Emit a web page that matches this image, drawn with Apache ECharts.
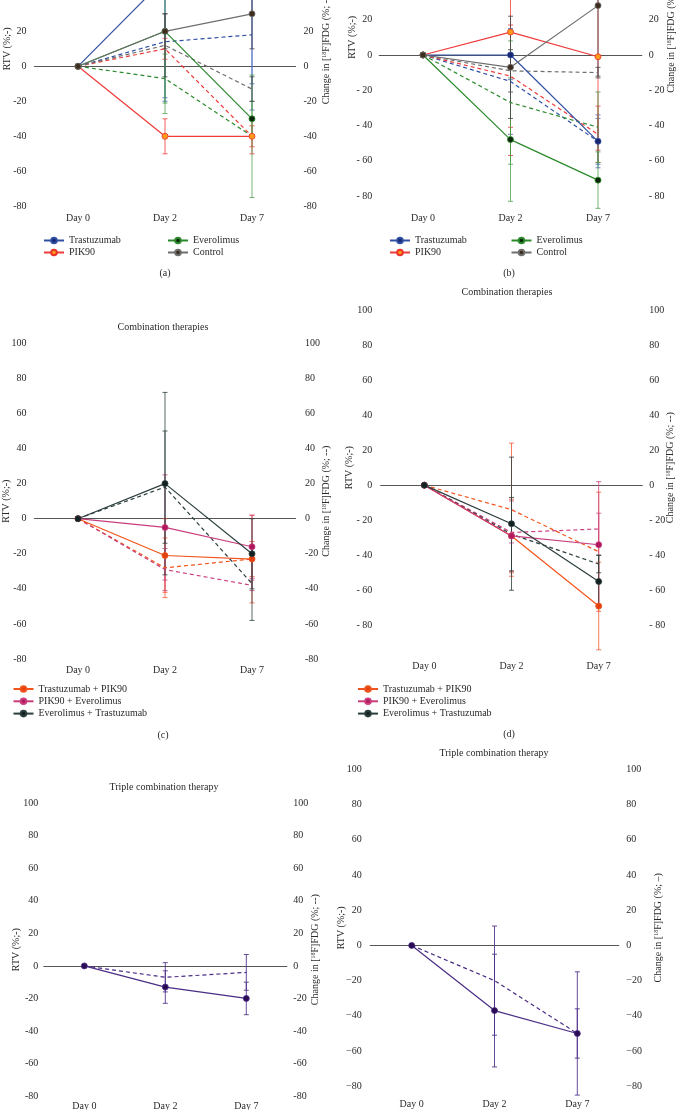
<!DOCTYPE html>
<html><head><meta charset="utf-8">
<script src="https://cdn.jsdelivr.net/npm/echarts@6/dist/echarts.min.js"></script>
<style>html,body{margin:0;padding:0;background:#fff}#c{width:678px;height:1110px}</style>
</head><body><div id="c"></div>
<script>
const days = ['Day 0', 'Day 2', 'Day 7'];

// Panel (a) — single therapies, RTV (solid) and FDG change (dashed)
const aTrasRTV = [0, 50, 55],   aTrasRTVErr = [0, 70, 80];
const aPikRTV  = [0, -40, -40], aPikRTVErr  = [0, 10, 10];
const aEveRTV  = [0, 20, -30],  aEveRTVErr  = [0, 47, 10];
const aCtlRTV  = [0, 20, 30],   aCtlRTVErr  = [0, 10, 20];
const aTrasFDG = [0, 14, 18],   aTrasFDGErr = [0, 32, 28];
const aPikFDG  = [0, 10, -40],  aPikFDGErr  = [0, 6, 6];
const aEveFDG  = [0, -7, -40],  aEveFDGErr  = [0, 14, 35];
const aCtlFDG  = [0, 12, -13],  aCtlFDGErr  = [0, 18, 7];

// Panel (b)
const bTrasRTV = [0, 0, -49],   bTrasRTVErr = [0, 14, 15];
const bPikRTV  = [0, 13, -1],   bPikRTVErr  = [0, 70, 53];
const bEveRTV  = [0, -48, -71], bEveRTVErr  = [0, 35, 16];
const bCtlRTV  = [0, -7, 28],   bCtlRTVErr  = [0, 29, 40];
const bTrasFDG = [0, -15, -49], bTrasFDGErr = [0, 30, 13];
const bPikFDG  = [0, -12, -45], bPikFDGErr  = [0, 29, 16];
const bEveFDG  = [0, -27, -41], bEveFDGErr  = [0, 35, 20];
const bCtlFDG  = [0, -9, -10],  bCtlFDGErr  = [0, 12, 3];

// Panel (c) — combination therapies
const cTPRTV = [0, -21, -23], cTPRTVErr = [0, 21, 25];
const cPERTV = [0, -5, -16],  cPERTVErr = [0, 30, 18];
const cETRTV = [0, 20, -20],  cETRTVErr = [0, 52, 20];
const cTPFDG = [0, -28, -23], cTPFDGErr = [0, 17, 10];
const cPEFDG = [0, -29, -38], cPEFDGErr = [0, 12, 3];
const cETFDG = [0, 18, -37],  cETFDGErr = [0, 32, 21];

// Panel (d)
const dTPRTV = [0, -29, -69], dTPRTVErr = [0, 21, 25];
const dPERTV = [0, -29, -34], dPERTVErr = [0, 20, 36];
const dETRTV = [0, -22, -55], dETRTVErr = [0, 38, 15];
const dTPFDG = [0, -14, -38], dTPFDGErr = [0, 38, 34];
const dPEFDG = [0, -27, -25], dPEFDGErr = [0, 6, 9];
const dETFDG = [0, -28, -45], dETFDGErr = [0, 21, 5];

// Panel (e) & (f) — triple combination therapy
const eRTV = [0, -13, -20], eRTVErr = [0, 10, 10];
const eFDG = [0, -7, -4],   eFDGErr = [0, 9, 11];
const fRTV = [0, -37, -50], fRTVErr = [0, 32, 35];
const fFDG = [0, -20, -50], fFDGErr = [0, 31, 14];

const singleNames = ['Trastuzumab', 'PIK90', 'Everolimus', 'Control'];
const comboNames = ['Trastuzumab + PIK90', 'PIK90 + Everolimus', 'Everolimus + Trastuzumab'];
const tripleName = 'Triple';

// ---------- styles ----------
const FONT = 'Liberation Serif';
const STY = {
  tras: {line: '#2f4fa3', mark: '#1a2670', border: '#2f4fa3', err: 'rgba(80,110,195,0.85)'},
  pik:  {line: '#ee3a3a', mark: '#ff9a1a', border: '#e8322a', err: 'rgba(238,70,70,0.85)'},
  eve:  {line: '#2b8a2b', mark: '#0b260b', border: '#2b8a2b', err: 'rgba(70,155,70,0.75)'},
  ctl:  {line: '#6e6e6e', mark: '#3e2c1c', border: '#6e6e6e', err: 'rgba(70,70,70,0.8)'},
  tp:   {line: '#f2541b', mark: '#e2400e', border: '#f2541b', err: 'rgba(242,90,50,0.8)'},
  pe:   {line: '#c93d7e', mark: '#b0185c', border: '#c93d7e', err: 'rgba(205,70,130,0.8)'},
  et:   {line: '#2d3e3e', mark: '#122222', border: '#2d3e3e', err: 'rgba(45,62,62,0.8)'},
  tri:  {line: '#4b2d86', mark: '#2a0c55', border: '#4b2d86', err: 'rgba(75,45,134,0.85)'}
};

const panels = [
  {grid: {left: 34.5, top: -108.7, width: 261, height: 315}, fmt: '-', xMargin: 7, lm: 8, rm: 8, lGap: 22.5, rGap: 25.5, rName: '(%; --)',
   series: [
     [singleNames[0], aTrasRTV, aTrasRTVErr, aTrasFDG, aTrasFDGErr, 'tras'],
     [singleNames[1], aPikRTV, aPikRTVErr, aPikFDG, aPikFDGErr, 'pik'],
     [singleNames[2], aEveRTV, aEveRTVErr, aEveFDG, aEveFDGErr, 'eve'],
     [singleNames[3], aCtlRTV, aCtlRTVErr, aCtlFDG, aCtlFDGErr, 'ctl']]},
  {grid: {left: 379.25, top: -121.3, width: 262.5, height: 317.3}, fmt: '- ', xMargin: 17, lm: 7, rm: 7, lGap: 22, rGap: 25, rName: '(%; --)',
   series: [
     [singleNames[0], bTrasRTV, bTrasRTVErr, bTrasFDG, bTrasFDGErr, 'tras'],
     [singleNames[1], bPikRTV, bPikRTVErr, bPikFDG, bPikFDGErr, 'pik'],
     [singleNames[2], bEveRTV, bEveRTVErr, bEveFDG, bEveFDGErr, 'eve'],
     [singleNames[3], bCtlRTV, bCtlRTVErr, bCtlFDG, bCtlFDGErr, 'ctl']]},
  {grid: {left: 34.5, top: 343.3, width: 261, height: 315.7}, fmt: '-', xMargin: 6, lm: 8, rm: 9.5, lGap: 23.5, rGap: 26, rName: '(%; --)',
   series: [
     [comboNames[0], cTPRTV, cTPRTVErr, cTPFDG, cTPFDGErr, 'tp'],
     [comboNames[1], cPERTV, cPERTVErr, cPEFDG, cPEFDGErr, 'pe'],
     [comboNames[2], cETRTV, cETRTVErr, cETFDG, cETFDGErr, 'et']]},
  {grid: {left: 380.7, top: 310, width: 261.6, height: 315.3}, fmt: '- ', xMargin: 36, lm: 8.4, rm: 7, lGap: 26.7, rGap: 23.4, rName: '(%; --)',
   series: [
     [comboNames[0], dTPRTV, dTPRTVErr, dTPFDG, dTPFDGErr, 'tp'],
     [comboNames[1], dPERTV, dPERTVErr, dPEFDG, dPEFDGErr, 'pe'],
     [comboNames[2], dETRTV, dETRTVErr, dETFDG, dETFDGErr, 'et']]},
  {grid: {left: 43.8, top: 803.3, width: 243, height: 292.7}, fmt: '-', xMargin: 5, lm: 5.5, rm: 6.5, lGap: 22, rGap: 23.2, rName: '(%; --)',
   series: [[tripleName + ' e', eRTV, eRTVErr, eFDG, eFDGErr, 'tri']]},
  {grid: {left: 370.3, top: 769.3, width: 248.4, height: 317}, fmt: '\u2212', xMargin: 12.7, lm: 8.6, rm: 7.6, lGap: 24, rGap: 35, rName: '(%; \u2013)',
   series: [[tripleName + ' f', fRTV, fRTVErr, fFDG, fFDGErr, 'tri']]}
];

const txt = {fontFamily: FONT, fontSize: 10, color: '#2a2a2a'};

function errSeries(i, yIdx, vals, errs, color) {
  return {
    type: 'custom', xAxisIndex: 2 * i, yAxisIndex: yIdx, silent: true, z: 1, clip: false,
    data: vals.map((v, k) => [k, v, errs[k]]),
    encode: {x: 0, y: 1},
    renderItem: (params, api) => {
      const k = api.value(0), v = api.value(1), e = api.value(2);
      if (!e) return null;
      const hi = api.coord([k, v + e]), lo = api.coord([k, v - e]);
      const w = 2.5;
      const st = {stroke: color, lineWidth: 1};
      return {type: 'group', children: [
        {type: 'line', shape: {x1: hi[0], y1: hi[1], x2: lo[0], y2: lo[1]}, style: st},
        {type: 'line', shape: {x1: hi[0] - w, y1: hi[1], x2: hi[0] + w, y2: hi[1]}, style: st},
        {type: 'line', shape: {x1: lo[0] - w, y1: lo[1], x2: lo[0] + w, y2: lo[1]}, style: st}
      ]};
    }
  };
}

const grid = [], xAxis = [], yAxis = [], series = [];
panels.forEach((p, i) => {
  grid.push(Object.assign({containLabel: false, outerBoundsMode: 'none'}, p.grid));
  const lab = (v) => v < 0 ? p.fmt + Math.abs(v) : String(v);
  xAxis.push({type: 'category', gridIndex: i, data: days, boundaryGap: true, position: 'bottom',
    axisLine: {show: false, onZero: false}, axisTick: {show: false}, splitLine: {show: false},
    axisLabel: Object.assign({margin: p.xMargin}, txt)});
  xAxis.push({type: 'category', gridIndex: i, data: days, boundaryGap: true,
    axisLine: {show: true, onZero: true, lineStyle: {color: '#555', width: 1.2}},
    axisTick: {show: false}, axisLabel: {show: false}, splitLine: {show: false}});
  const yBase = {type: 'value', gridIndex: i, min: -80, max: 100, interval: 20,
    axisLine: {show: false}, axisTick: {show: false}, splitLine: {show: false},
    nameLocation: 'middle', nameRotate: 90, nameMoveOverlap: false};
  yAxis.push(Object.assign({}, yBase, {position: 'left', name: 'RTV (%;-)', nameGap: p.lGap,
    nameTextStyle: Object.assign({}, txt),
    axisLabel: Object.assign({margin: p.lm, formatter: lab}, txt)}));
  yAxis.push(Object.assign({}, yBase, {position: 'right',
    name: 'Change in [{s|18}F]FDG ' + p.rName, nameGap: p.rGap,
    nameTextStyle: Object.assign({}, txt, {rich: {s: {fontFamily: FONT, fontSize: 6, verticalAlign: 'top', lineHeight: 10, color: '#2a2a2a'}}}),
    axisLabel: Object.assign({margin: p.rm, formatter: lab}, txt)}));

  p.series.forEach(s => {
    const st = STY[s[5]];
    series.push(errSeries(i, 2 * i + 1, s[3], s[4], st.err));
    series.push(errSeries(i, 2 * i, s[1], s[2], st.err));
  });
  p.series.forEach(s => {
    const st = STY[s[5]];
    series.push({type: 'line', name: s[0] + ' FDG', xAxisIndex: 2 * i, yAxisIndex: 2 * i + 1, data: s[3],
      symbol: 'none', silent: true, z: 2,
      lineStyle: {color: st.line, width: 1.2, type: [4, 3]}});
  });
  p.series.forEach(s => {
    const st = STY[s[5]];
    series.push({type: 'line', name: s[0], xAxisIndex: 2 * i, yAxisIndex: 2 * i, data: s[1],
      symbol: 'circle', symbolSize: 6, silent: true, z: 3,
      lineStyle: {color: st.line, width: 1.2},
      itemStyle: {color: st.mark, borderColor: st.border, borderWidth: 0.8}});
  });
});

const legBase = {orient: 'vertical', padding: 0, itemWidth: 20, itemHeight: 7, itemGap: 2,
  selectedMode: false, textStyle: Object.assign({}, txt, {lineHeight: 10})};
const legend = [
  Object.assign({}, legBase, {left: 43, top: 235.5, data: [singleNames[0], singleNames[1]]}),
  Object.assign({}, legBase, {left: 167, top: 235.5, data: [singleNames[2], singleNames[3]]}),
  Object.assign({}, legBase, {left: 389, top: 235.5, data: [singleNames[0], singleNames[1]]}),
  Object.assign({}, legBase, {left: 510.5, top: 235.5, data: [singleNames[2], singleNames[3]]}),
  Object.assign({}, legBase, {left: 12.5, top: 684, itemGap: 2.3, data: comboNames}),
  Object.assign({}, legBase, {left: 357, top: 684, itemGap: 2.3, data: comboNames})
];

function label(text, x, y) {
  return {type: 'text', x: x, y: y, silent: true,
    style: {text: text, fontFamily: FONT, fontSize: 10, fill: '#2a2a2a', textAlign: 'center', textVerticalAlign: 'middle'}};
}
const graphic = [
  label('(a)', 165, 273), label('(b)', 509, 273),
  label('Combination therapies', 163, 327), label('Combination therapies', 507, 292),
  label('(c)', 163, 735), label('(d)', 509, 734.5),
  label('Triple combination therapy', 164, 787), label('Triple combination therapy', 494, 753.5)
];

const chart = echarts.init(document.getElementById('c'), null, {renderer: 'canvas'});
chart.setOption({
  backgroundColor: '#ffffff', animation: false,
  grid, xAxis, yAxis, series, legend, graphic
});
</script></body></html>
